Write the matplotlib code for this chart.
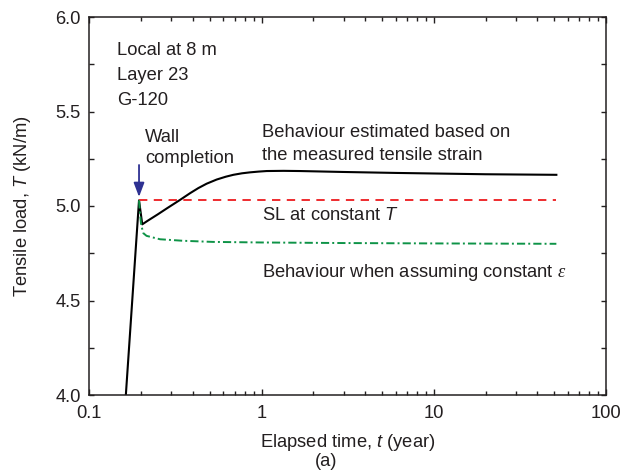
import matplotlib
matplotlib.use("Agg")
import matplotlib.pyplot as plt
from matplotlib.ticker import LogLocator, MultipleLocator, FixedLocator, FixedFormatter, NullFormatter

plt.rcParams['font.family'] = ['Liberation Sans', 'DejaVu Sans']
plt.rcParams['mathtext.fontset'] = 'custom'
plt.rcParams['mathtext.rm'] = 'Liberation Sans'
plt.rcParams['mathtext.sf'] = 'Liberation Sans:italic'
plt.rcParams['mathtext.it'] = 'Liberation Serif:italic'

# Behaviour estimated from the measured tensile strain
t_measured = [0.163, 0.1944, 0.203, 0.22, 0.25, 0.2816, 0.336, 0.385, 0.43, 0.48,
              0.549, 0.62, 0.686, 0.77, 0.857, 0.96, 1.072, 1.34, 1.67, 3.0,
              6.0, 10.0, 20.0, 51.5]
T_measured = [4.00, 5.03, 4.903, 4.924, 4.956, 4.987, 5.032, 5.068, 5.095, 5.118,
              5.140, 5.155, 5.165, 5.173, 5.178, 5.182, 5.185, 5.186, 5.185, 5.180,
              5.175, 5.172, 5.168, 5.165]

# Stress relaxation (SL) at constant load
t_sl = [0.1944, 51.5]
T_sl = [5.03, 5.03]

# Behaviour when assuming constant strain
t_eps = [0.1944, 0.197, 0.200, 0.206, 0.215, 0.2575, 0.35, 0.523, 1.0, 3.0, 10.0, 51.5]
T_eps = [5.03, 4.96, 4.90, 4.856, 4.842, 4.824, 4.816, 4.810, 4.807, 4.804, 4.802, 4.800]

t_wall = 0.1944

x_ticks = [0.1, 1, 10, 100]
x_ticklabels = ['0.1', '1', '10', '100']
y_ticks = [4.0, 4.5, 5.0, 5.5, 6.0]
y_ticklabels = ['4.0', '4.5', '5.0', '5.5', '6.0']

txt_color = '#231f20'
fs = 13.2

fig = plt.figure(figsize=(6.23, 4.72), dpi=100)
ax = fig.add_axes([89.3 / 623, 77 / 472, (606 - 89.3) / 623, (395 - 17) / 472])

ax.plot(t_measured, T_measured, color='black', lw=1.5, solid_joinstyle='round')
ax.plot(t_sl, T_sl, color='#ee2b2e', lw=1.4, linestyle=(0, (4.3, 3.3)))
ax.plot(t_eps, T_eps, color='#0e9347', lw=1.4, linestyle=(0, (4.2, 1.6, 1.0, 1.6)))

ax.set_xscale('log')
ax.set_xlim(0.1, 100)
ax.set_ylim(4.0, 6.0)

ax.xaxis.set_major_locator(FixedLocator(x_ticks))
ax.xaxis.set_major_formatter(FixedFormatter(x_ticklabels))
ax.xaxis.set_minor_locator(LogLocator(base=10, subs=range(2, 10)))
ax.xaxis.set_minor_formatter(NullFormatter())
ax.yaxis.set_major_locator(FixedLocator(y_ticks))
ax.yaxis.set_major_formatter(FixedFormatter(y_ticklabels))
ax.yaxis.set_minor_locator(MultipleLocator(0.25))

ax.tick_params(which='both', direction='in', top=True, right=True,
               width=1.0, color=txt_color, labelsize=fs, labelcolor=txt_color)
ax.tick_params(axis='x', which='major', length=4.2, pad=7.5)
ax.tick_params(axis='x', which='minor', length=3.0)
ax.tick_params(axis='y', which='both', length=3.8, pad=6)

for sp in ax.spines.values():
    sp.set_linewidth(1.1)
    sp.set_color(txt_color)

ax.set_xlabel(r'Elapsed time, $\mathsf{t}$ (year)', fontsize=fs, color=txt_color, labelpad=7)
ax.set_ylabel(r'Tensile load, $\mathsf{T}$ (kN/m)', fontsize=fs, color=txt_color, labelpad=16)

# Annotations
kw = dict(fontsize=fs, color=txt_color, va='baseline', ha='left')
ax.text(0.1448, 5.799, 'Local at 8 m', **kw)
ax.text(0.1448, 5.667, 'Layer 23', **kw)
ax.text(0.1448, 5.534, 'G-120', **kw)

ax.text(0.2107, 5.339, 'Wall', **kw)
ax.text(0.2107, 5.228, 'completion', **kw)

ax.text(1.007, 5.367, 'Behaviour estimated based on', **kw)
ax.text(1.007, 5.243, 'the measured tensile strain', **kw)
ax.text(1.007, 4.926, r'SL at constant $\mathsf{T}$', **kw)
ax.text(1.007, 4.626, r'Behaviour when assuming constant $\varepsilon$', **kw)

ax.annotate('', xy=(t_wall, 5.048), xytext=(t_wall, 5.217),
            arrowprops=dict(arrowstyle='-|>,head_length=0.85,head_width=0.32',
                            color='#2e3192', lw=1.3, shrinkA=0, shrinkB=0))

fig.text(326 / 623, 1 - 462 / 472, '(a)', fontsize=fs, color=txt_color,
         ha='center', va='center')

fig.savefig('out.png', dpi=100)
